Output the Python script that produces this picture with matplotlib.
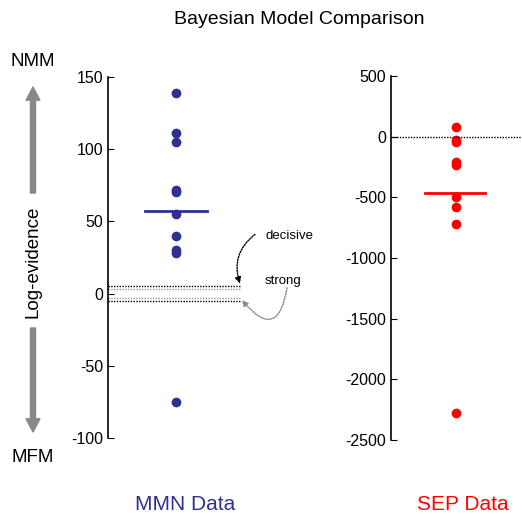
import numpy as np
import matplotlib.pyplot as plt

plt.rcParams['font.family'] = ['Liberation Sans', 'DejaVu Sans']
plt.rcParams['axes.unicode_minus'] = False

# log-evidence values
mmn_values = [139, 111.5, 105, 72, 70.5, 55, 40, 30.5, 28, -75]
mmn_mean = 57
sep_values = [82, -27, -41, -206, -234, -495, -577, -720, -2281]
sep_mean = -467

decisive = 5
strong = 3

mmn_color = '#2e3192'
sep_color = '#ff0000'
dots = (0, (1, 1))

fig = plt.figure(figsize=(5.22, 5.14), dpi=100)

# MMN panel
ax1 = fig.add_axes([108/522, 1 - 438/514, 192/522, 361/514])
ax1.set_xlim(0, 192)
ax1.set_ylim(-100, 150)
ax1.plot([68] * len(mmn_values), mmn_values, 'o', color=mmn_color, ms=7, mec='none')
ax1.plot([37, 99], [mmn_mean, mmn_mean], color=mmn_color, lw=2)
ax1.plot([0, 132], [decisive, decisive], ls=dots, color='black', lw=1)
ax1.plot([0, 132], [strong, strong], ls=dots, color='#999999', lw=1)
ax1.plot([0, 132], [-strong, -strong], ls=dots, color='#999999', lw=1)
ax1.plot([0, 132], [-decisive, -decisive], ls=dots, color='black', lw=1)
ax1.text(157, 38, 'decisive', fontsize=9.5, va='baseline')
ax1.text(157, 6.8, 'strong', fontsize=9.5, va='baseline')
ax1.annotate('', xy=(132, 7), xytext=(147, 41),
             arrowprops=dict(arrowstyle='-|>', color='black', ls=dots, lw=1,
                             connectionstyle='arc3,rad=0.35', mutation_scale=9,
                             shrinkA=0, shrinkB=0))
ax1.annotate('', xy=(134, -4.4), xytext=(179, 4),
             arrowprops=dict(arrowstyle='-|>', color='#888888', ls=dots, lw=1,
                             connectionstyle='arc3,rad=-1.1', mutation_scale=9,
                             shrinkA=0, shrinkB=0))
ax1.set_yticks([-100, -50, 0, 50, 100, 150])
ax1.set_xticks([])
for s in ['top', 'right', 'bottom']:
    ax1.spines[s].set_visible(False)
ax1.spines['left'].set_linewidth(1.2)
ax1.tick_params(axis='y', direction='in', length=4, labelsize=11.5)

# SEP panel
ax2 = fig.add_axes([391/522, 1 - 440/514, 131/522, 364/514])
ax2.set_xlim(0, 131)
ax2.set_ylim(-2500, 500)
ax2.plot([65] * len(sep_values), sep_values, 'o', color=sep_color, ms=7, mec='none')
ax2.plot([34, 94], [sep_mean, sep_mean], color=sep_color, lw=2)
ax2.plot([0, 131], [0, 0], ls=dots, color='black', lw=1)
ax2.set_yticks([-2500, -2000, -1500, -1000, -500, 0, 500])
ax2.set_xticks([])
for s in ['top', 'right', 'bottom']:
    ax2.spines[s].set_visible(False)
ax2.spines['left'].set_linewidth(1.2)
ax2.tick_params(axis='y', direction='in', length=4, labelsize=11.5)

# annotations around the panels
fig.text(299/522, 1 - 20/514, 'Bayesian Model Comparison', fontsize=14, ha='center', va='center')
fig.text(185/522, 1 - 504/514, 'MMN Data', fontsize=15, color=mmn_color, ha='center', va='center')
fig.text(463/522, 1 - 504/514, 'SEP Data', fontsize=15, color=sep_color, ha='center', va='center')
fig.text(33/522, 1 - 61/514, 'NMM', fontsize=13.5, ha='center', va='center')
fig.text(33/522, 1 - 458/514, 'MFM', fontsize=13.5, ha='center', va='center')
fig.text(33/522, 1 - 262/514, 'Log-evidence', fontsize=13.5, rotation=90, ha='center', va='center')
arrow_kw = dict(xycoords='figure pixels', textcoords='figure pixels',
                arrowprops=dict(width=3.6, headwidth=10, headlength=9.5,
                                color='#888888', shrink=0))
fig.axes[0].annotate('', xy=(33, 514 - 87), xytext=(33, 514 - 193), **arrow_kw)
fig.axes[0].annotate('', xy=(33, 514 - 432), xytext=(33, 514 - 328), **arrow_kw)

fig.savefig('out.png', dpi=100)
